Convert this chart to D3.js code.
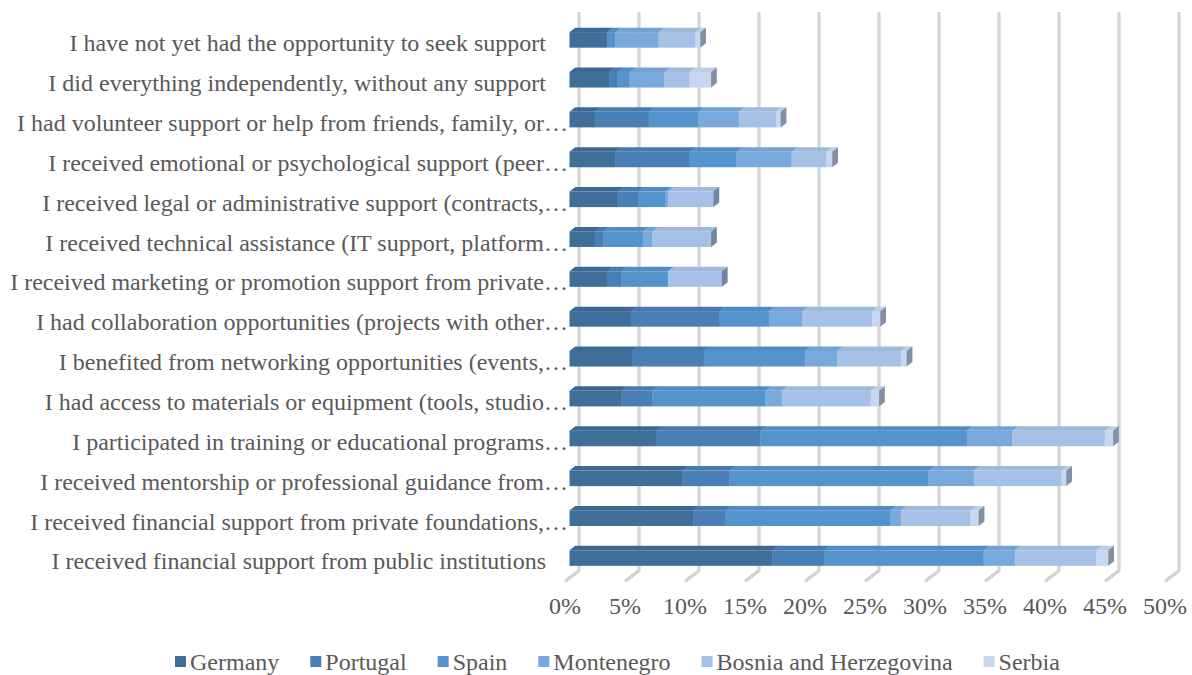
<!DOCTYPE html>
<html>
<head>
<meta charset="utf-8">
<script src="https://cdn.jsdelivr.net/npm/d3@7/dist/d3.min.js"></script>
<style>
  html, body { margin: 0; padding: 0; background: #ffffff; }
  svg { display: block; }
</style>
</head>
<body>
<svg id="chart" width="1192" height="675"></svg>
<script>
// Support types, listed top to bottom as they appear on the chart
const categories = [
  "I have not yet had the opportunity to seek support",
  "I did everything independently, without any support",
  "I had volunteer support or help from friends, family, or…",
  "I received emotional or psychological support (peer…",
  "I received legal or administrative support (contracts,…",
  "I received technical assistance (IT support, platform…",
  "I received marketing or promotion support from private…",
  "I had collaboration opportunities (projects with other…",
  "I benefited from networking opportunities (events,…",
  "I had access to materials or equipment (tools, studio…",
  "I participated in training or educational programs…",
  "I received mentorship or professional guidance from…",
  "I received financial support from private foundations,…",
  "I received financial support from public institutions"
];

const seriesNames = ["Germany", "Portugal", "Spain", "Montenegro", "Bosnia and Herzegovina", "Serbia"];

// Share of respondents (%) per country, in category order
const germany    = [3.1, 3.3, 2.1, 3.8, 4.0, 2.1, 3.1, 5.1, 5.2, 4.3, 7.2, 9.4, 10.3, 16.9];
const portugal   = [0.0, 0.7, 4.5, 6.2, 1.7, 0.7, 1.2, 7.4, 6.0, 2.6, 8.7, 3.9, 2.7, 4.3];
const spain      = [0.7, 1.0, 4.1, 3.9, 2.3, 3.3, 3.9, 4.1, 8.4, 9.4, 17.2, 16.6, 13.7, 13.3];
const montenegro = [3.6, 2.9, 3.4, 4.6, 0.2, 0.8, 0.0, 2.8, 2.7, 1.4, 3.8, 3.8, 0.9, 2.6];
const bosnia     = [3.1, 2.1, 3.1, 2.9, 3.8, 4.9, 4.5, 5.8, 5.3, 7.4, 7.7, 7.3, 5.8, 6.8];
const serbia     = [0.4, 1.8, 0.4, 0.5, 0.0, 0.0, 0.0, 0.7, 0.5, 0.7, 0.7, 0.4, 0.7, 1.0];

const xTicks = [0, 5, 10, 15, 20, 25, 30, 35, 40, 45, 50];

const seriesValues = [germany, portugal, spain, montenegro, bosnia, serbia];
const colors = ["#3f6e99", "#4a7fb6", "#5593cd", "#78a9dc", "#a5c2e6", "#c6d7ef"];

const FONT = '"Liberation Serif"';
const TEXT_COLOR = "#595959";

const svg = d3.select("#chart");

// Front plane scales; the back wall sits one "depth" step up and to the right
const x = d3.scaleLinear().domain([0, 50]).range([565, 1165]);
const y = d3.scaleBand().domain(categories).range([23.5, 581.5])
  .paddingInner(0.61).paddingOuter(0.305);
const DX = 14, DY = -11;          // floor depth vector (front -> back wall)
const T0 = 0.32, T1 = 0.73;        // bar front / back depth fractions
const floorY = 581.5, wallTop = 12;

// Gridlines on the back wall and across the floor
const grid = svg.append("g");
xTicks.forEach(t => {
  const xb = x(t) + DX;
  const path = `M${xb},${wallTop} L${xb},${floorY + DY} L${x(t)},${floorY}`;
  grid.append("path").attr("d", path).attr("fill", "none")
    .attr("stroke", "#c9c9c9").attr("stroke-width", 3).attr("stroke-linejoin", "round");
  grid.append("path").attr("d", path).attr("fill", "none")
    .attr("stroke", "#e2e2e2").attr("stroke-width", 1);
});

// Stacked 3D bars
const stackData = categories.map((c, i) => {
  const row = { category: c };
  seriesNames.forEach((s, k) => row[s] = seriesValues[k][i]);
  return row;
});
const stacked = d3.stack().keys(seriesNames)(stackData);

const ddx = DX * (T1 - T0), ddy = DY * (T1 - T0);
const h = y.bandwidth();
const bars = svg.append("g");

categories.forEach((c, i) => {
  const g = bars.append("g");
  const yTop = y(c) + DY * T0;
  let lastK = -1;
  stacked.forEach((layer, k) => {
    const [a, b] = layer[i];
    if (b - a <= 0) return;
    lastK = k;
    const x0 = x(a) + DX * T0, x1 = x(b) + DX * T0;
    const col = colors[k];
    // front face
    g.append("rect").attr("x", x0).attr("y", yTop)
      .attr("width", x1 - x0 + 0.4).attr("height", h).attr("fill", col);
    // top face
    g.append("path")
      .attr("d", `M${x0},${yTop} L${x1 + 0.4},${yTop} L${x1 + ddx + 0.4},${yTop + ddy} L${x0 + ddx},${yTop + ddy} Z`)
      .attr("fill", d3.color(col).darker(0.12));
  });
  if (lastK >= 0) {
    const end = stacked[lastK][i][1];
    const x1 = x(end) + DX * T0;
    const capCol = d3.interpolateRgb(colors[lastK], "#4a5568")(0.55);
    g.append("path")
      .attr("d", `M${x1},${yTop} L${x1 + ddx},${yTop + ddy} L${x1 + ddx},${yTop + ddy + h} L${x1},${yTop + h} Z`)
      .attr("fill", capCol);
  }
});

// Category labels
svg.append("g").selectAll("text").data(categories).join("text")
  .attr("x", d => d.endsWith("…") ? 568 : 546)
  .attr("y", d => y(d) + h / 2)
  .attr("dy", "0.33em")
  .attr("text-anchor", "end")
  .style("font-family", FONT)
  .style("font-size", "24px")
  .style("fill", TEXT_COLOR)
  .text(d => d);

// Value axis labels
svg.append("g").selectAll("text").data(xTicks).join("text")
  .attr("x", d => x(d))
  .attr("y", 614)
  .attr("text-anchor", "middle")
  .style("font-family", FONT)
  .style("font-size", "24px")
  .style("fill", TEXT_COLOR)
  .text(d => d + "%");

// Legend
const legend = svg.append("g");
let lx = 175;
seriesNames.forEach((s, k) => {
  legend.append("rect").attr("x", lx).attr("y", 656).attr("width", 11).attr("height", 11)
    .attr("fill", colors[k]);
  const t = legend.append("text").attr("x", lx + 15).attr("y", 670)
    .style("font-family", FONT).style("font-size", "24px").style("fill", TEXT_COLOR).text(s);
  lx += 15 + t.node().getComputedTextLength() + 31;
});
</script>
</body>
</html>
